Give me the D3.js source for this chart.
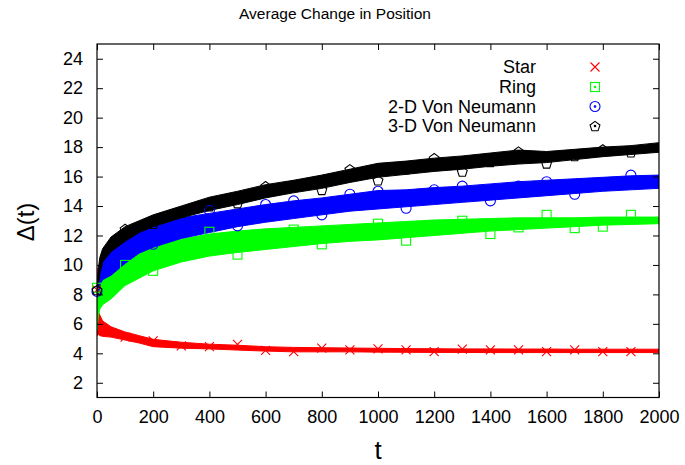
<!DOCTYPE html>
<html><head><meta charset="utf-8">
<script src="https://cdn.jsdelivr.net/npm/d3@7"></script>
<style>
body{margin:0;background:#fff}
svg{display:block;font-family:"Liberation Sans",Arial,sans-serif}
</style>
</head><body>
<svg id="chart" width="685" height="465"></svg>
<script>
// Time steps at which the spread (min / max) of each run is recorded
const bandT = [0, 1, 2, 5, 10, 20, 50, 100, 150, 200, 300, 400, 500, 600, 700, 800, 900,
               1000, 1100, 1200, 1300, 1400, 1500, 1600, 1700, 1800, 1900, 2000];

const starLo = [8.3, 5.3, 5.2, 5.3, 5.2, 5.15, 5.1, 4.9, 4.7, 4.45, 4.35, 4.3, 4.22, 4.15, 4.1, 4.1, 4.1,
                4.08, 4.07, 4.06, 4.06, 4.05, 4.05, 4.05, 4.05, 4.05, 4.05, 4.05];
const starHi = [9.8, 9.0, 7.0, 6.8, 6.6, 6.2, 5.8, 5.45, 5.2, 4.95, 4.75, 4.62, 4.55, 4.45, 4.4, 4.38, 4.36,
                4.34, 4.32, 4.31, 4.3, 4.3, 4.29, 4.29, 4.28, 4.28, 4.28, 4.28];

const ringLo = [8.2, 5.6, 6.0, 6.6, 7.0, 7.3, 7.7, 8.6, 9.1, 9.6, 10.2, 10.6, 10.85, 11.05, 11.25, 11.45, 11.6,
                11.7, 11.85, 12.0, 12.15, 12.3, 12.4, 12.5, 12.6, 12.7, 12.75, 12.8];
const ringHi = [8.5, 8.4, 8.6, 8.6, 8.9, 9.0, 9.3, 10.1, 10.8, 11.3, 11.75, 12.1, 12.3, 12.45, 12.55, 12.65, 12.75,
                12.85, 12.95, 13.05, 13.1, 13.15, 13.2, 13.2, 13.2, 13.25, 13.25, 13.25];

const vn2Lo = [8.1, 7.8, 7.9, 8.0, 8.6, 9.0, 9.3, 10.1, 10.8, 11.2, 11.8, 12.2, 12.6, 12.9, 13.15, 13.4, 13.65,
               13.8, 13.95, 14.1, 14.25, 14.4, 14.55, 14.7, 14.85, 15.0, 15.1, 15.2];
const vn2Hi = [8.3, 8.6, 9.0, 9.4, 10.0, 10.5, 10.9, 11.7, 12.2, 12.6, 13.2, 13.5, 13.8, 14.1, 14.35, 14.55, 14.8,
               15.05, 15.1, 15.25, 15.35, 15.5, 15.65, 15.75, 15.85, 15.95, 16.05, 16.1];

const vn3Lo = [8.2, 8.0, 8.2, 8.6, 9.4, 10.2, 10.9, 11.6, 12.2, 12.6, 13.2, 13.7, 14.1, 14.55, 14.9, 15.2, 15.6,
               15.95, 16.15, 16.35, 16.5, 16.7, 16.85, 16.95, 17.15, 17.35, 17.5, 17.65];
const vn3Hi = [8.4, 8.8, 9.1, 9.8, 10.5, 11.1, 11.9, 12.6, 13.0, 13.4, 14.0, 14.6, 15.0, 15.45, 15.75, 16.1, 16.5,
               16.9, 17.05, 17.25, 17.4, 17.6, 17.8, 17.7, 17.85, 18.0, 18.1, 18.3];

// Sampled points shown every 100 steps
const markT = [0, 100, 200, 300, 400, 500, 600, 700, 800, 900,
               1000, 1100, 1200, 1300, 1400, 1500, 1600, 1700, 1800, 1900];
const starPts = [8.3, 5.1, 4.85, 4.5, 4.45, 4.6, 4.2, 4.12, 4.35, 4.24,
                 4.3, 4.24, 4.12, 4.29, 4.24, 4.24, 4.12, 4.24, 4.12, 4.12];
const ringPts = [8.45, 10.0, 9.6, 11.2, 12.25, 10.7, 11.9, 12.4, 11.4, 12.2,
                 12.8, 11.65, 12.6, 13.0, 12.1, 12.55, 13.4, 12.5, 12.6, 13.4];
const vn2Pts  = [8.2, 11.0, 11.4, 12.5, 13.7, 12.65, 14.1, 14.35, 13.4, 14.8,
                 15.0, 13.85, 15.1, 15.35, 14.35, 15.35, 15.65, 14.8, 15.5, 16.1];
const vn3Pts  = [8.3, 12.45, 12.8, 13.55, 14.0, 14.2, 15.35, 15.4, 15.1, 16.5,
                 15.75, 16.5, 17.25, 16.35, 17.0, 17.7, 16.9, 17.4, 17.85, 17.65];

const seriesNames = ["Star", "Ring", "2-D Von Neumann", "3-D Von Neumann"];
const xTicks = [0, 200, 400, 600, 800, 1000, 1200, 1400, 1600, 1800, 2000];
const yTicks = [2, 4, 6, 8, 10, 12, 14, 16, 18, 20, 22, 24];

const series = [
  {name: seriesNames[0], lo: starLo, hi: starHi, pts: starPts, color: "#ff0000", shape: "cross"},
  {name: seriesNames[1], lo: ringLo, hi: ringHi, pts: ringPts, color: "#00ff00", shape: "square"},
  {name: seriesNames[2], lo: vn2Lo,  hi: vn2Hi,  pts: vn2Pts,  color: "#0000ff", shape: "circle"},
  {name: seriesNames[3], lo: vn3Lo,  hi: vn3Hi,  pts: vn3Pts,  color: "#000000", shape: "pentagon"}
];

const svg = d3.select("#chart");
const L = 97, R = 659, T = 44, B = 397.5;
const x = d3.scaleLinear().domain([0, 2000]).range([L, R]);
const y = d3.scaleLinear().domain([1, 25]).range([B, T]);

svg.append("defs").append("clipPath").attr("id", "plotclip")
  .append("rect").attr("x", L).attr("y", T).attr("width", R - L).attr("height", B - T);

// marker drawing
function drawMarker(g, shape, cx, cy, color) {
  const s = g.append("g").attr("transform", `translate(${cx},${cy})`)
    .attr("fill", "none").attr("stroke", color).attr("stroke-width", 1.1);
  if (shape === "cross") {
    s.append("path").attr("d", "M-4.5,-4.5L4.5,4.5M-4.5,4.5L4.5,-4.5");
  } else if (shape === "square") {
    s.append("rect").attr("x", -4.5).attr("y", -4.5).attr("width", 9).attr("height", 9);
  } else if (shape === "circle") {
    s.append("circle").attr("r", 5);
  } else {
    const r = 5.2;
    const p = d3.range(5).map(i => {
      const a = -Math.PI / 2 + i * 2 * Math.PI / 5;
      return [r * Math.cos(a), r * Math.sin(a) + 0.6];
    });
    s.append("path").attr("d", "M" + p.join("L") + "Z");
  }
  return s;
}

// bands + sample markers, one series at a time
const plot = svg.append("g").attr("clip-path", "url(#plotclip)");
series.forEach(sr => {
  const rows = bandT.map((t, i) => ({t, lo: sr.lo[i], hi: sr.hi[i]}));
  const area = d3.area().x(d => x(d.t)).y0(d => y(d.lo)).y1(d => y(d.hi));
  plot.append("path").datum(rows).attr("d", area)
    .attr("fill", sr.color).attr("stroke", sr.color).attr("stroke-width", 1);
  markT.forEach((t, i) => drawMarker(svg, sr.shape, x(t), y(sr.pts[i]), sr.color));
});

// frame
svg.append("rect").attr("x", L).attr("y", T).attr("width", R - L).attr("height", B - T)
  .attr("fill", "none").attr("stroke", "#000").attr("stroke-width", 1.2);

// axes with inward ticks, mirrored on top and right
const fontSize = 18;
const ax = svg.append("g").attr("transform", `translate(0,${B})`)
  .call(d3.axisBottom(x).tickValues(xTicks).tickSize(-6).tickPadding(13).tickFormat(d3.format("d")));
const ay = svg.append("g").attr("transform", `translate(${L},0)`)
  .call(d3.axisLeft(y).tickValues(yTicks).tickSize(-6).tickPadding(14).tickFormat(d3.format("d")));
const axT = svg.append("g").attr("transform", `translate(0,${T})`)
  .call(d3.axisTop(x).tickValues(xTicks).tickSize(-6).tickFormat(""));
const ayR = svg.append("g").attr("transform", `translate(${R},0)`)
  .call(d3.axisRight(y).tickValues(yTicks).tickSize(-6).tickFormat(""));
[ax, ay, axT, ayR].forEach(g => {
  g.select(".domain").remove();
  g.selectAll(".tick line").attr("stroke", "#000").attr("stroke-width", 1);
  g.selectAll("text").attr("font-size", fontSize).attr("fill", "#000")
    .attr("font-family", '"Liberation Sans",Arial,sans-serif');
});

// titles
svg.append("text").attr("x", 335).attr("y", 19).attr("text-anchor", "middle")
  .attr("font-size", 15.5).text("Average Change in Position");
svg.append("text").attr("x", 378).attr("y", 459).attr("text-anchor", "middle")
  .attr("font-size", 26).text("t");
svg.append("text").attr("transform", "translate(34,222) rotate(-90)").attr("text-anchor", "middle")
  .attr("font-size", 24).text("\u0394(t)");

// key
const keyY = [67, 87, 106.5, 126];
series.forEach((sr, i) => {
  svg.append("text").attr("x", 536).attr("y", keyY[i]).attr("dy", "0.35em")
    .attr("text-anchor", "end").attr("font-size", 18).text(sr.name);
  const m = drawMarker(svg, sr.shape, 595, keyY[i], sr.color);
  if (sr.shape !== "cross") m.append("circle").attr("r", 0.8).attr("fill", sr.color);
});
</script>
</body></html>
